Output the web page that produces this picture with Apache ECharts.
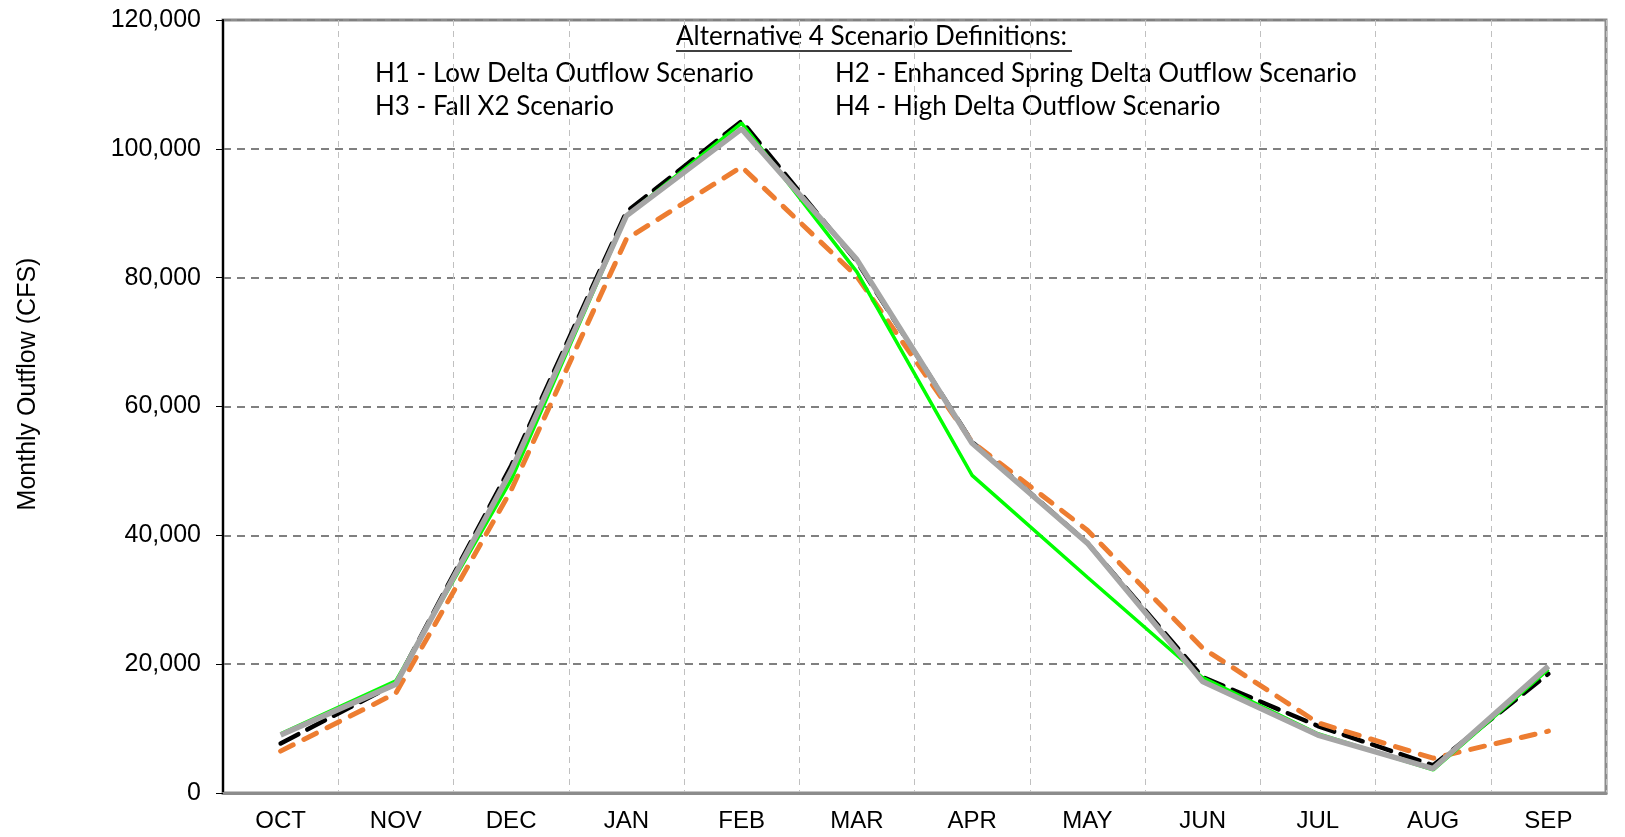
<!DOCTYPE html>
<html>
<head>
<meta charset="utf-8">
<script src="https://cdn.jsdelivr.net/npm/echarts@6/dist/echarts.min.js"></script>
<style>
  html, body { margin: 0; padding: 0; background: #fff; }
  #chart { width: 1625px; height: 837px; }
</style>
</head>
<body>
<div id="chart"></div>
<script>
const months = ["OCT", "NOV", "DEC", "JAN", "FEB", "MAR", "APR", "MAY", "JUN", "JUL", "AUG", "SEP"]

// monthly outflow, cfs
const h1 = [7700, 17000, 50800, 90200, 104300, 82500, 54500, 38800, 18000, 10400, 4300, 18500]
const h2 = [6500, 15500, 47000, 86000, 97200, 80200, 54500, 40800, 22500, 10900, 5400, 9600]
const h3 = [9200, 17400, 48600, 89600, 104000, 80900, 49300, 33500, 17900, 9200, 3600, 19200]
const h4 = [9000, 16900, 50000, 89600, 103100, 82800, 54300, 38800, 17300, 9000, 3800, 19700]

const yTicks = { min: 0, max: 120000, step: 20000 }

const defFont = "Lato, 'Open Sans', sans-serif"
const axisFont = "'Liberation Sans', Arial, sans-serif"

const chart = echarts.init(document.getElementById("chart"))

const defText = (text, x, y) => ({
  type: "text",
  style: { text, x, y, verticalAlign: "middle", font: `26px ${defFont}`, fill: "#000" },
})

const option = {
  animation: false,
  textStyle: { fontFamily: axisFont },
  grid: {
    left: 223,
    top: 20,
    right: 19,
    bottom: 44,
    show: true,
    borderColor: "#8c8c8c",
    borderWidth: 3,
  },
  xAxis: {
    type: "category",
    data: months,
    boundaryGap: true,
    axisLine: { lineStyle: { color: "#8c8c8c", width: 3 } },
    axisTick: { show: false },
    axisLabel: { color: "#000", fontSize: 24, margin: 16 },
    splitLine: {
      show: true,
      lineStyle: { color: "#c0c0c0", width: 1, type: [6, 5] },
    },
  },
  yAxis: {
    type: "value",
    min: yTicks.min,
    max: yTicks.max,
    interval: yTicks.step,
    axisLine: { show: true, lineStyle: { color: "#000", width: 2 } },
    axisTick: { show: true, length: 7, lineStyle: { color: "#000", width: 1 } },
    axisLabel: {
      color: "#000",
      fontSize: 25,
      margin: 22,
      formatter: v => v === 0 ? "0" : v.toLocaleString("en-US"),
    },
    splitLine: {
      show: true,
      lineStyle: { color: "#808080", width: 2, type: [8, 6] },
    },
  },
  series: [
    {
      name: "H1",
      type: "line",
      data: h1,
      symbol: "none",
      z: 2,
      lineStyle: { color: "#000", width: 4.5, type: [20, 10], cap: "round" },
    },
    {
      name: "H2",
      type: "line",
      data: h2,
      symbol: "none",
      z: 3,
      lineStyle: { color: "#ed7d31", width: 5, type: [14, 12], cap: "round" },
    },
    {
      name: "H3",
      type: "line",
      data: h3,
      symbol: "none",
      z: 4,
      lineStyle: { color: "#00ff00", width: 3.5 },
    },
    {
      name: "H4",
      type: "line",
      data: h4,
      symbol: "none",
      z: 5,
      lineStyle: { color: "#a5a5a5", width: 5.5 },
    },
  ],
  graphic: [
    {
      type: "text",
      x: 28,
      y: 384,
      rotation: Math.PI / 2,
      style: {
        text: "Monthly Outflow (CFS)",
        align: "center",
        verticalAlign: "middle",
        font: `25px ${axisFont}`,
        fill: "#000",
      },
    },
    defText("Alternative 4 Scenario Definitions:", 676, 37),
    {
      type: "line",
      shape: { x1: 676, y1: 51, x2: 1072, y2: 51 },
      style: { stroke: "#000", lineWidth: 1.5 },
    },
    defText("H1 - Low Delta Outflow Scenario", 375, 74),
    defText("H2 - Enhanced Spring Delta Outflow Scenario", 835, 74),
    defText("H3 - Fall X2 Scenario", 375, 107),
    defText("H4 - High Delta Outflow Scenario", 835, 107),
  ],
}

chart.setOption(option)
window.addEventListener("resize", () => chart.resize())
</script>
</body>
</html>
